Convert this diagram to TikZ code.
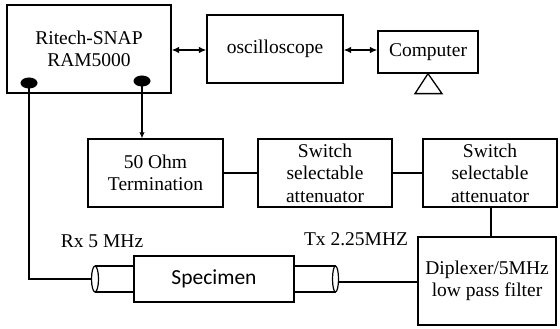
\documentclass[tikz,border=0pt]{standalone}
\usepackage{fontspec}
\setmainfont{Liberation Serif}
\newfontfamily\specfont{Carlito}
\usetikzlibrary{arrows.meta,calc}
\begin{document}
\begin{tikzpicture}[x=1pt,y=-1pt,
  box/.style={draw,line width=1.3pt,rectangle,inner sep=0pt,align=center,
    font=\fontsize{19.5}{22.5}\selectfont},
  wire/.style={line width=1.2pt},
  dbl/.style={line width=1.3pt,{Latex[length=7.5pt,width=6.5pt]}-{Latex[length=7.5pt,width=6.5pt]}},
  sgl/.style={line width=1.2pt,-{Latex[length=6pt,width=5.5pt]}},
  lbl/.style={font=\fontsize{19.5}{22.5}\selectfont,inner sep=0pt}]
\useasboundingbox (0,0) rectangle (560,329);
\node[box,minimum width=164pt,minimum height=88pt] (ritech) at (89,49) {Ritech-SNAP\\RAM5000};
\node[box,minimum width=136pt,minimum height=68pt] (osc) at (275,49) {oscilloscope};
\node[box,minimum width=100pt,minimum height=42pt] (comp) at (428,52) {Computer};
\node[box,minimum width=135pt,minimum height=68pt] (ohm) at (155.5,173) {50 Ohm\\Termination};
\node[box,minimum width=134pt,minimum height=68pt] (sw1) at (325,173) {Switch\\selectable\\attenuator};
\node[box,minimum width=134pt,minimum height=68pt] (sw2) at (490,173) {Switch\\selectable\\attenuator};
\node[box,minimum width=138pt,minimum height=88pt] (dip) at (487,281) {Diplexer/5MHz\\low pass filter};
\node[box,minimum width=160pt,minimum height=46pt,font=\specfont\fontsize{21.5}{24}\selectfont] (spec) at (214,279) {Specimen};
% dots
\fill (29,83) ellipse [x radius=8.5pt,y radius=5.5pt];
\fill (142,81) ellipse [x radius=8.5pt,y radius=5.5pt];
\coordinate (dotL) at (29,83);
\coordinate (dotR) at (142,81);
% triangle
\coordinate (tri) at (comp.south);
\draw[line width=1.3pt] (tri) -- ++(-13,20) -- ++(27,0) -- cycle;
% arrows
\draw[dbl] (ritech.east |- 0,50) -- (osc.west |- 0,50);
\draw[dbl] (osc.east |- 0,50) -- (comp.west |- 0,50);
\draw[sgl] (dotR) -- (dotR |- ohm.north);
% connections
\draw[wire] (ohm.east) -- (sw1.west);
\draw[wire] (sw1.east) -- (sw2.west);
\draw[wire] (sw2.south -| 491,0) -- (dip.north -| 491,0);
% cylinders
\coordinate (cylL) at (95,279);
\coordinate (cylR) at (335.5,279);
\draw[line width=1.2pt] (cylL) ++(0,-13) -- (spec.west |- 0,266) (cylL) ++(0,13) -- (spec.west |- 0,292);
\draw[line width=1.2pt] (cylL) ellipse [x radius=3.5pt,y radius=13pt];
\draw[line width=1.2pt] (cylR) ++(0,-13) -- (spec.east |- 0,266) (cylR) ++(0,13) -- (spec.east |- 0,292);
\draw[line width=1.2pt] (cylR) ellipse [x radius=3pt,y radius=13pt];
\draw[wire] (dotL) |- ($(cylL)+(-3.5,0)$);
\draw[wire] ($(cylR)+(3,3)$) -- (dip.west |- 0,282);
% labels
\node[lbl] (rx) at (102,241) {Rx 5 MHz};
\node[lbl] (tx) at (356,239) {Tx 2.25MHZ};
\end{tikzpicture}
\end{document}
